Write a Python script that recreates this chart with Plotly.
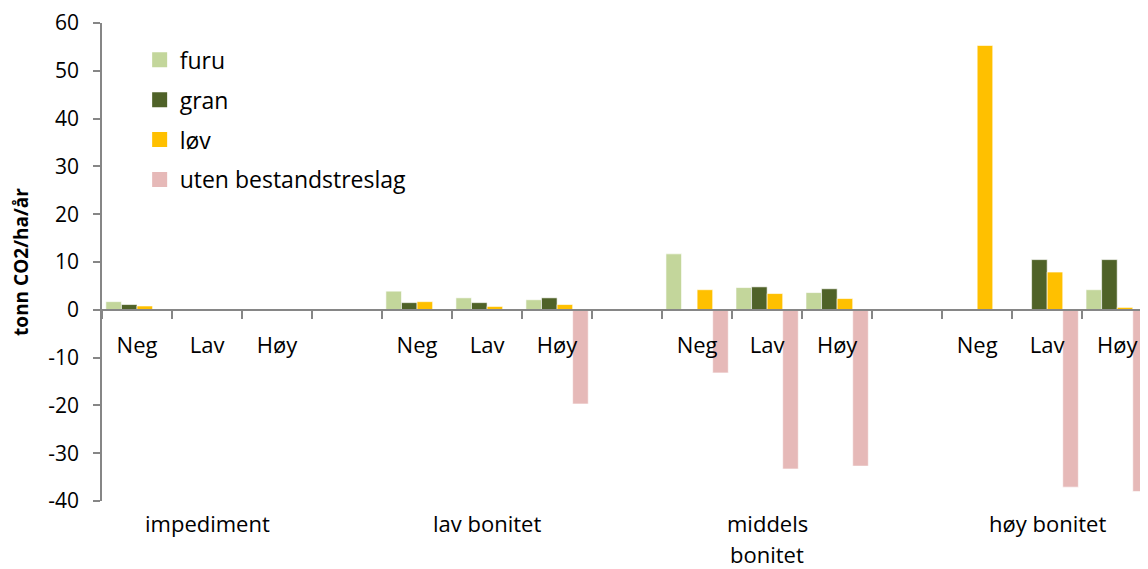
import plotly.graph_objects as go

# groups and sub-classes along the x axis
groups = ["impediment", "lav bonitet", "middels\nbonitet", "høy bonitet"]
classes = ["Neg", "Lav", "Høy"]

# tonn CO2/ha/år, 3 values per group (Neg, Lav, Høy)
furu = [1.7, None, None, 3.9, 2.5, 2.1, 11.7, 4.65, 3.6, None, None, 4.2]
gran = [1.1, None, None, 1.5, 1.5, 2.5, None, 4.8, 4.4, None, 10.5, 10.5]
lov = [0.8, None, None, 1.7, 0.7, 1.1, 4.2, 3.4, 2.35, 55.3, 7.9, 0.5]
uten = [None, None, None, None, None, -19.7, -13.2, -33.3, -32.7, None, -37.1, -38.0]

yticks = [-40, -30, -20, -10, 0, 10, 20, 30, 40, 50, 60]

series = [
    ("furu", furu, "#C3D69B"),
    ("gran", gran, "#4F6228"),
    ("løv", lov, "#FFC000"),
    ("uten bestandstreslag", uten, "#E6B9B8"),
]

FONT = "Open Sans"
AXIS = "#868686"

# one empty slot after each group
step = len(classes) + 1
xpos = [g * step + i for g in range(len(groups)) for i in range(len(classes))]
xlabels = [c for _ in groups for c in classes]
bounds = [i - 0.5 for i in range(len(groups) * step)]

fig = go.Figure()
for name, vals, color in series:
    fig.add_trace(
        go.Bar(
            x=xpos,
            y=vals,
            name=name,
            legendgroup=name,
            showlegend=False,
            marker=dict(color=color, line=dict(color="rgba(255,255,255,0.6)", width=1)),
        )
    )
    # legend entry with a bigger square swatch
    fig.add_trace(
        go.Scatter(
            x=[None],
            y=[None],
            mode="markers",
            name=name,
            legendgroup=name,
            marker=dict(symbol="square", size=15, color=color),
        )
    )

# page body has an 8px margin, so the figure is 8px smaller each way
fig.update_layout(
    width=1140,
    height=561,
    margin=dict(l=94, r=0, t=15, b=68),
    paper_bgcolor="white",
    plot_bgcolor="white",
    barmode="group",
    bargap=0.11,
    bargroupgap=0,
    font=dict(family=FONT, size=20, color="#000000"),
    legend=dict(
        x=0.036,
        y=0.968,
        xanchor="left",
        yanchor="top",
        font=dict(size=23),
        itemwidth=30,
        tracegroupgap=7,
        bgcolor="rgba(0,0,0,0)",
    ),
    showlegend=True,
)

fig.update_xaxes(
    range=[-0.5, len(groups) * step - 1 - 0.56],
    anchor="free",
    position=0.4,
    tickmode="array",
    tickvals=xpos,
    ticktext=xlabels,
    ticks="",
    ticklabelstandoff=16,
    tickfont=dict(size=22),
    showline=True,
    linecolor=AXIS,
    linewidth=2,
    showgrid=False,
    zeroline=False,
    minor=dict(tickmode="array", tickvals=bounds, ticks="outside", ticklen=8, tickcolor=AXIS, tickwidth=2, showgrid=False),
)

fig.update_yaxes(
    range=[-40, 60],
    tickvals=yticks,
    ticktext=[str(v) for v in yticks],
    ticks="outside",
    ticklen=7,
    tickcolor=AXIS,
    tickwidth=1.5,
    ticklabelstandoff=10,
    showline=True,
    linecolor=AXIS,
    linewidth=1.5,
    showgrid=False,
    zeroline=False,
    tickfont=dict(size=21),
    title=dict(text="<b>tonn CO2/ha/år</b>", font=dict(size=19), standoff=20),
)

for g, label in enumerate(groups):
    for k, line in enumerate(label.split("\n")):
        fig.add_annotation(
            x=g * step + 1,
            y=0,
            xref="x",
            yref="paper",
            yanchor="middle",
            yshift=-22 - 31 * k,
            text=line,
            showarrow=False,
            font=dict(size=22),
        )

fig.write_html("out.html")
